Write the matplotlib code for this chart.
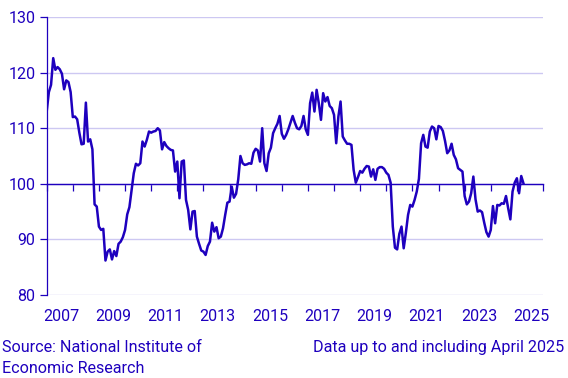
import matplotlib.pyplot as plt
import numpy as np

# monthly index values, Jan 2007 - Apr 2025
v2007 = [113.0, 116.5, 117.8, 122.6, 120.5, 121.0, 120.6, 119.8, 117.0, 118.6, 118.3, 116.5]
v2008 = [112.0, 112.1, 111.6, 109.2, 107.1, 107.2, 114.6, 107.6, 108.0, 106.2, 96.3, 95.9]
v2009 = [92.3, 91.7, 91.9, 86.2, 87.8, 88.2, 86.4, 87.9, 87.0, 89.2, 89.6, 90.4]
v2010 = [91.7, 94.5, 95.8, 98.8, 101.9, 103.6, 103.3, 103.7, 107.6, 106.7, 107.9, 109.4]
v2011 = [109.2, 109.4, 109.5, 110.0, 109.6, 106.2, 107.5, 106.8, 106.4, 106.1, 106.0, 102.2]
v2012 = [104.0, 97.4, 104.0, 104.2, 97.1, 95.3, 91.8, 95.0, 95.1, 90.5, 89.2, 88.0]
v2013 = [87.8, 87.2, 88.8, 89.6, 93.0, 91.4, 92.2, 90.2, 90.5, 92.0, 94.4, 96.6]
v2014 = [96.8, 99.5, 97.5, 98.2, 100.8, 105.0, 103.7, 103.4, 103.5, 103.7, 103.6, 105.6]
v2015 = [106.3, 106.0, 104.0, 110.0, 103.7, 102.3, 105.5, 106.5, 109.1, 110.0, 110.8, 112.2]
v2016 = [109.0, 108.1, 108.8, 109.8, 111.0, 112.2, 111.0, 110.0, 109.8, 110.4, 112.2, 109.8]
v2017 = [108.8, 114.5, 116.4, 113.0, 116.9, 114.5, 111.5, 116.3, 114.8, 115.6, 114.0, 113.6]
v2018 = [112.4, 107.3, 112.1, 114.8, 108.5, 107.8, 107.2, 107.2, 107.0, 102.5, 100.2, 101.2]
v2019 = [102.3, 102.0, 102.7, 103.2, 103.1, 101.3, 102.6, 100.7, 102.7, 103.0, 103.0, 102.7]
v2020 = [102.0, 101.6, 100.2, 92.3, 88.5, 88.2, 91.0, 92.3, 88.4, 91.2, 94.4, 96.2]
v2021 = [95.9, 97.1, 98.6, 100.9, 107.3, 108.8, 106.7, 106.5, 109.4, 110.3, 110.0, 108.0]
v2022 = [110.4, 110.2, 109.5, 107.7, 105.5, 106.0, 107.2, 105.2, 104.4, 102.8, 102.5, 102.2]
v2023 = [97.8, 96.3, 96.8, 98.3, 101.3, 97.2, 95.0, 95.2, 94.9, 93.0, 91.3, 90.5]
v2024 = [91.7, 96.0, 92.9, 96.2, 96.1, 96.5, 96.4, 97.8, 95.6, 93.6, 98.6, 100.2]
v2025 = [101.0, 98.3, 101.4, 100.1]

values = (v2007 + v2008 + v2009 + v2010 + v2011 + v2012 + v2013 + v2014 + v2015
          + v2016 + v2017 + v2018 + v2019 + v2020 + v2021 + v2022 + v2023 + v2024 + v2025)
t = 2007 + np.arange(len(values)) / 12

years = list(range(2007, 2027, 2))
yticks = [80, 90, 100, 110, 120, 130]

blue = '#1e00be'
light = '#cdc8f2'
plt.rcParams['font.family'] = ['Roboto', 'DejaVu Sans']

fig = plt.figure(figsize=(5.68, 3.78), dpi=100)
ax = fig.add_axes([0.0822, 0.2196, 0.8738, 0.7354])

ax.plot(t, values, color=blue, lw=1.8, zorder=3)

ax.set_xlim(2007, 2026)
ax.set_ylim(80, 130)

# y axis
ax.set_yticks(yticks)
ax.yaxis.grid(True, color=light, lw=1)
ax.set_axisbelow(True)
ax.tick_params(axis='y', length=5, width=0.9, color=blue, labelcolor=blue, labelsize=11.5, pad=3)
ax.spines['top'].set_visible(False)
ax.spines['right'].set_visible(False)
ax.spines['left'].set_color(blue)
ax.spines['left'].set_linewidth(0.9)

# the 100 line carries the yearly ticks
ax.spines['bottom'].set_position(('data', 100))
ax.spines['bottom'].set_color(blue)
ax.spines['bottom'].set_linewidth(1.0)
ax.spines['bottom'].set_zorder(2)
ax.set_xticks(range(2007, 2027))
ax.tick_params(axis='x', length=5, width=0.9, color=blue, labelbottom=False)

# year labels under the plot
sec = ax.secondary_xaxis('bottom')
sec.set_xticks([y + 0.55 for y in years], [str(y) for y in years])
sec.tick_params(length=0, labelcolor=blue, labelsize=11.5, pad=10)
sec.spines['bottom'].set_visible(False)

fig.text(0.003, 0.1, 'Source: National Institute of\nEconomic Research', color=blue,
         fontsize=11.6, ha='left', va='top', linespacing=1.45)
fig.text(0.993, 0.1, 'Data up to and including April 2025', color=blue,
         fontsize=11.6, ha='right', va='top')

plt.savefig('out.png', dpi=100)
